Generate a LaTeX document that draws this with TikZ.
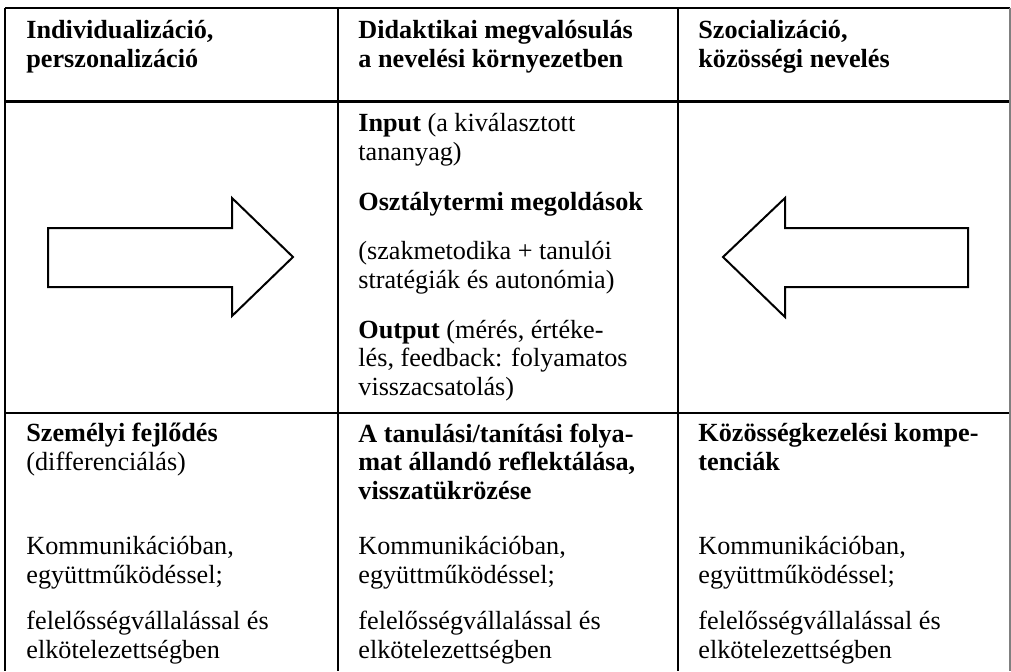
\documentclass[tikz,border=0pt]{standalone}
\usepackage{fontspec}
\setmainfont{Liberation Serif}
\tikzset{
  cell/.style={anchor=base west, align=left, inner sep=0pt,
    font=\fontsize{13.1}{14.25}\selectfont},
  rule/.style={line width=0.75pt},
  bigarrow/.style={draw, line width=1pt, line join=miter, fill=white}
}
\begin{document}
\begin{tikzpicture}[x=0.5pt,y=-0.5pt]

      \useasboundingbox (0,0) rectangle (1011,671);

      % table lines
      \draw[rule, line width=1pt] (5,8) -- (1010,8);
      \draw[rule, line width=1.5pt] (5,101.5) -- (1010,101.5);
      \draw[rule, line width=1pt] (5,413) -- (1010,413);
      \draw[rule] (5,8) -- (5,671);
      \draw[rule] (338,8) -- (338,671);
      \draw[rule] (678,8) -- (678,671);
      \draw[rule, gray] (1010,8) -- (1010,671);

      % arrows
      \draw[bigarrow] (48,228) -- (232,228) -- (232,198) -- (293,257)
        -- (232,316) -- (232,287) -- (48,287) -- cycle;
      \draw[bigarrow] (968,228) -- (785,228) -- (785,198) -- (723,257)
        -- (785,317) -- (785,287) -- (968,287) -- cycle;

      % nodes sit on the baseline of their last line
      \begin{scope}[every node/.style={cell}]
        % header
        \node (h1) at (26,67)  {\textbf{Individualizáció,}\\\textbf{perszonalizáció}};
        \node (h2) at (358,67) {\textbf{Didaktikai megvalósulás}\\\textbf{a nevelési környezetben}};
        \node (h3) at (698,67) {\textbf{Szocializáció,}\\\textbf{közösségi nevelés}};

        % middle
        \node (input)  at (358,160) {\textbf{Input} (a kiválasztott\\tananyag)};
        \node (oszt)   at (358,210) {\textbf{Osztálytermi megoldások}};
        \node (szak)   at (358,288) {(szakmetodika + tanulói\\stratégiák és autonómia)};
        \node (output) at (358,395) {\textbf{Output} (mérés, érté\-ke-\\lés, feedback: folyamatos\\visszacsatolás)};

        % bottom
        \node (b1) at (26,470)  {\textbf{Személyi fejlődés}\\(differenciálás)};
        \node (b2) at (358,499) {\textbf{A tanulási/tanítási folya-}\\\textbf{mat állandó reflektálása,}\\\textbf{visszatükrözése}};
        \node (b3) at (698,470) {\textbf{Közösségkezelési kompe-}\\\textbf{tenciák}};

        \foreach \x/\n in {26/1, 358/2, 698/3} {
          \node (k\n) at (\x,583) {Kommunikációban,\\együttműködéssel;};
          \node (f\n) at (\x,658) {felelősségvállalással és\\elkötelezettségben};
        }
      \end{scope}

    \end{tikzpicture}
\end{document}
